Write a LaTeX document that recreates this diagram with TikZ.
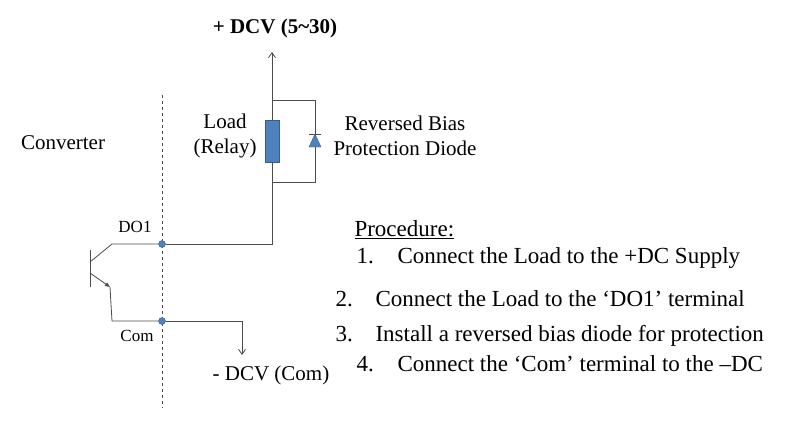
\documentclass[tikz,border=0pt]{standalone}
\usepackage{fontspec}
\setmainfont{Liberation Serif}
\usetikzlibrary{arrows.meta}
\definecolor{bl}{HTML}{4F81BD}
\definecolor{bd}{HTML}{385D8A}
\begin{document}
\begin{tikzpicture}[x=1pt,y=-1pt,
 w/.style={draw=black!70,line width=0.8pt},
 dot/.style={circle,fill=bl,draw=bd,inner sep=0,minimum size=7pt},
 lbl/.style={font=\fontsize{21}{25}\selectfont,align=center},
 sml/.style={font=\fontsize{17}{19}\selectfont},
 proc/.style={font=\fontsize{23}{26}\selectfont,anchor=base west}]
\useasboundingbox (0,0) rectangle (789,423);
\draw[black!70,dashed,line width=0.8pt] (162,95) -- (162,408);
% transistor
\draw[w] (90,250) -- (90,287);
\coordinate (c1) at (112,244);
\coordinate (e1) at (110,287);
\node[dot] (do1) at (162,244) {};
\node[dot] (com) at (162,321) {};
\draw[w] (90,262) -- (c1) -- (do1);
\draw[w,-{Triangle[length=5pt,width=4pt]}] (90,273) -- (e1);
\draw[w] (e1) -- (112,321) -- (com);
\coordinate (g) at (242,355);
\draw[w,-{Straight Barb[length=5pt,width=7pt]}] (com) -- (242,321) -- (g);
% load
\node[draw=bd,fill=bl,minimum width=14pt,minimum height=42pt,inner sep=0] (load) at (272,141) {};
\coordinate (top) at (272,52);
\draw[w] (do1) -- (272,244) -- (load.south);
\draw[w,-{Straight Barb[length=5pt,width=7pt]}] (load.north) -- (top);
\draw[w] (272,182) -- (315,182) -- (315,100) -- (272,100);
\coordinate (dtip) at (315,134);
\draw[w] (309,134) -- (321,134);
\fill[bl,draw=bd] (dtip) -- (309,147) -- (321,147) -- cycle;
% labels
\node[lbl,font=\fontsize{21}{25}\bfseries\selectfont] (t) at (275,28) {+ DCV (5\textasciitilde 30)};
\node[lbl] (conv) at (63,143) {Converter};
\node[lbl] (ld) at (225,136) {Load\\(Relay)};
\node[lbl] (rb) at (405,136) {Reversed Bias\\Protection Diode};
\node[sml] (d1) at (135,227) {DO1};
\node[sml] (cm) at (137,336) {Com};
\node[lbl] (dc) at (271,375) {- DCV (Com)};
\node[proc] (p) at (351,236) {\underline{Procedure:}};
\node[proc] at (353,263) {1.};
\node[proc] at (394,263) {Connect the Load to the +DC Supply};
\node[proc] at (332,306) {2.};
\node[proc] at (372,306) {Connect the Load to the ‘DO1’ terminal};
\node[proc] at (332,341) {3.};
\node[proc] at (372,341) {Install a reversed bias diode for protection};
\node[proc] at (353,371) {4.};
\node[proc] at (394,371) {Connect the ‘Com’ terminal to the –DC};
\end{tikzpicture}
\end{document}
